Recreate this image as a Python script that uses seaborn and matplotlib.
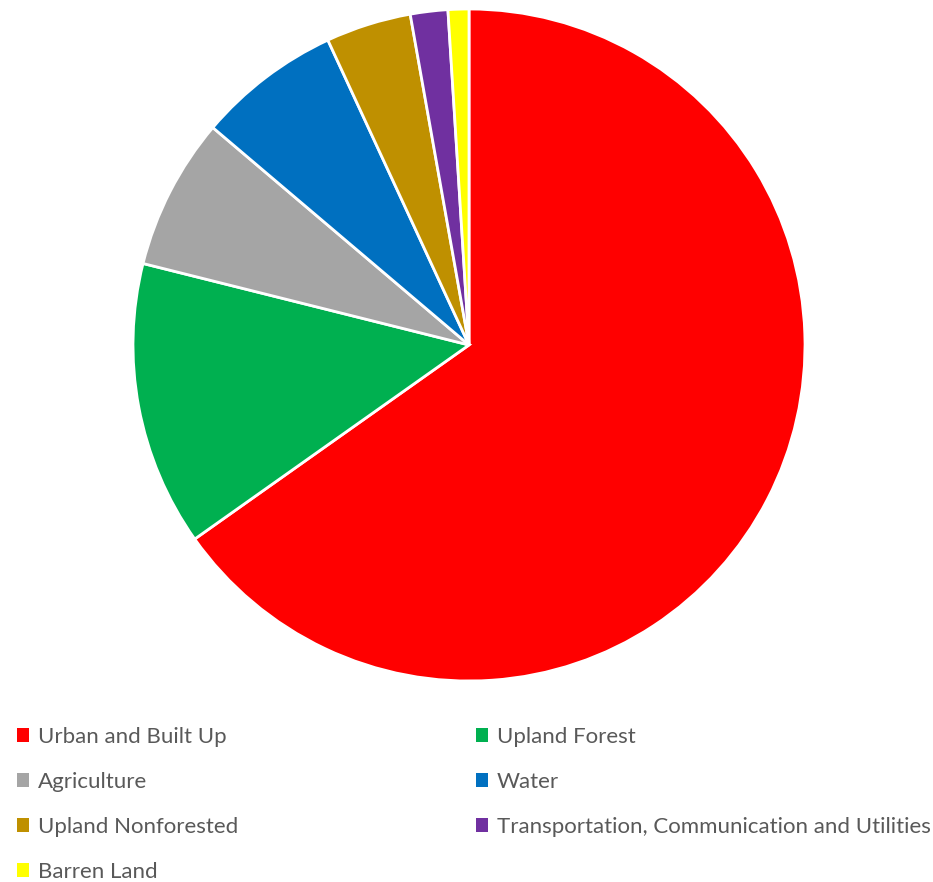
import matplotlib
matplotlib.use("Agg")
import matplotlib.pyplot as plt
import seaborn as sns

categories = ["Urban and Built Up", "Upland Forest", "Agriculture", "Water",
              "Upland Nonforested", "Transportation, Communication and Utilities",
              "Barren Land"]
values = [65.2, 13.7, 7.3, 6.9, 4.1, 1.8, 1.0]
colors = ["#FF0000", "#00B050", "#A5A5A5", "#0070C0", "#BF9000", "#7030A0", "#FFFF00"]

sns.set_theme(style="white")
plt.rcParams['font.family'] = ['Lato', 'DejaVu Sans']

W, H = 933, 882
fig = plt.figure(figsize=(W / 100, H / 100), dpi=100)
cx, cy, r = 469, 345, 336
ax = fig.add_axes([(cx - r) / W, (H - cy - r) / H, 2 * r / W, 2 * r / H])
wedges, _ = ax.pie(values, colors=colors, startangle=90, counterclock=False,
                   wedgeprops=dict(edgecolor="white", linewidth=2.0))
ax.set_xlim(-1, 1)
ax.set_ylim(-1, 1)
ax.set_aspect("equal")
ax.axis("off")

left_idx = [0, 2, 4, 6]
right_idx = [1, 3, 5]
common = dict(frameon=False, fontsize=16, handlelength=0.55, handleheight=0.55,
              handletextpad=0.4, labelspacing=1.12, labelcolor="#595959",
              borderpad=0, borderaxespad=0)
leg1 = fig.legend([wedges[i] for i in left_idx], [categories[i] for i in left_idx],
                  loc="upper left", bbox_to_anchor=(17 / W, 1 - 727 / H), **common)
leg2 = fig.legend([wedges[i] for i in right_idx], [categories[i] for i in right_idx],
                  loc="upper left", bbox_to_anchor=(476 / W, 1 - 727 / H), **common)
for leg in (leg1, leg2):
    for h in leg.legend_handles:
        h.set_edgecolor("none")

fig.savefig("out.png", dpi=100)
